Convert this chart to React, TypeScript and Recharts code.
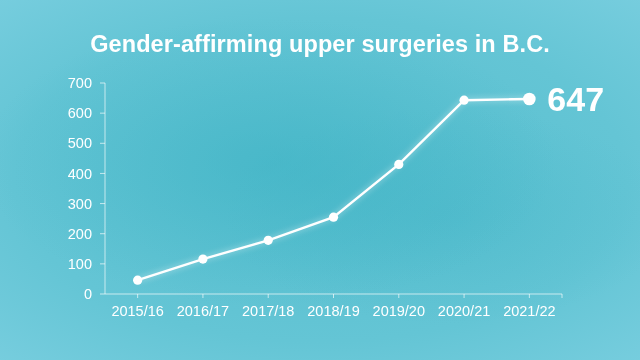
import React from "react";
import { LineChart, Line, XAxis, YAxis } from "recharts";

const categories = ["2015/16", "2016/17", "2017/18", "2018/19", "2019/20", "2020/21", "2021/22"];
const surgeries = [46, 116, 178, 255, 430, 643, 647];
const yTicks = [0, 100, 200, 300, 400, 500, 600, 700];
const title = "Gender-affirming upper surgeries in B.C.";

const data = categories.map((c, i) => ({ idx: i, category: c, value: surgeries[i] }));
const xTicks = [...categories.map((_, i) => i), categories.length - 0.5];

const FONT = "'Liberation Sans', Arial, Helvetica, sans-serif";
const AXIS_COLOR = "rgba(255,255,255,0.65)";

const renderDot = (props: any) => {
  const { cx, cy, index } = props;
  const last = index === surgeries.length - 1;
  if (last) {
    return (
      <g key={`dot-${index}`}>
        <circle cx={cx} cy={cy} r={6.3} fill="#ffffff" />
        <text
          x={cx + 18}
          y={cy + 12}
          fill="#ffffff"
          fontFamily={FONT}
          fontWeight="bold"
          fontSize={34}
          textAnchor="start"
        >
          {surgeries[index]}
        </text>
      </g>
    );
  }
  return <circle key={`dot-${index}`} cx={cx} cy={cy} r={4.6} fill="#ffffff" />;
};

export default function App() {
  return (
    <div
      style={{
        position: "fixed",
        left: 0,
        top: 0,
        width: 640,
        height: 360,
        overflow: "hidden",
        background:
          "radial-gradient(ellipse 45% 40% at 42% 45%, rgba(60,178,196,0.55), rgba(60,178,196,0) 100%)," +
          "radial-gradient(ellipse 35% 30% at 70% 60%, rgba(70,182,200,0.45), rgba(70,182,200,0) 100%)," +
          "radial-gradient(ellipse 80% 75% at 50% 50%, #56bece 0%, #64c5d5 60%, #7bcfe0 100%)",
        fontFamily: FONT,
      }}
    >
      <div
        style={{
          position: "absolute",
          left: 0,
          top: 29.5,
          width: 640,
          textAlign: "center",
          color: "#ffffff",
          fontWeight: "bold",
          fontSize: 23.5,
          letterSpacing: 0.1,
          lineHeight: "28px",
          fontFamily: FONT,
        }}
      >
        {title}
      </div>
      <div style={{ position: "absolute", left: 0, top: 0 }}>
        <LineChart
          width={640}
          height={360}
          data={data}
          margin={{ top: 83, right: 78, bottom: 0, left: 0 }}
        >
          <XAxis
            dataKey="idx"
            type="number"
            domain={[-0.5, categories.length - 0.5]}
            ticks={xTicks}
            tickFormatter={(v: number) => (Number.isInteger(v) ? categories[v] : "")}
            interval={0}
            height={66}
            stroke={AXIS_COLOR}
            tickSize={4}
            tickMargin={8}
            tick={{ fill: "#ffffff", fontSize: 14.5, fontFamily: FONT }}
            allowDecimals
          />
          <YAxis
            domain={[0, 700]}
            ticks={yTicks}
            width={105}
            stroke={AXIS_COLOR}
            tickSize={5}
            tickMargin={8}
            tick={{ fill: "#ffffff", fontSize: 14.5, fontFamily: FONT }}
            interval={0}
          />
          <Line
            type="linear"
            dataKey="value"
            stroke="#ffffff"
            strokeWidth={2.4}
            dot={renderDot}
            activeDot={false}
            isAnimationActive={false}
            style={{ filter: "drop-shadow(0 0 3px rgba(255,255,255,0.6))" }}
          />
        </LineChart>
      </div>
    </div>
  );
}
